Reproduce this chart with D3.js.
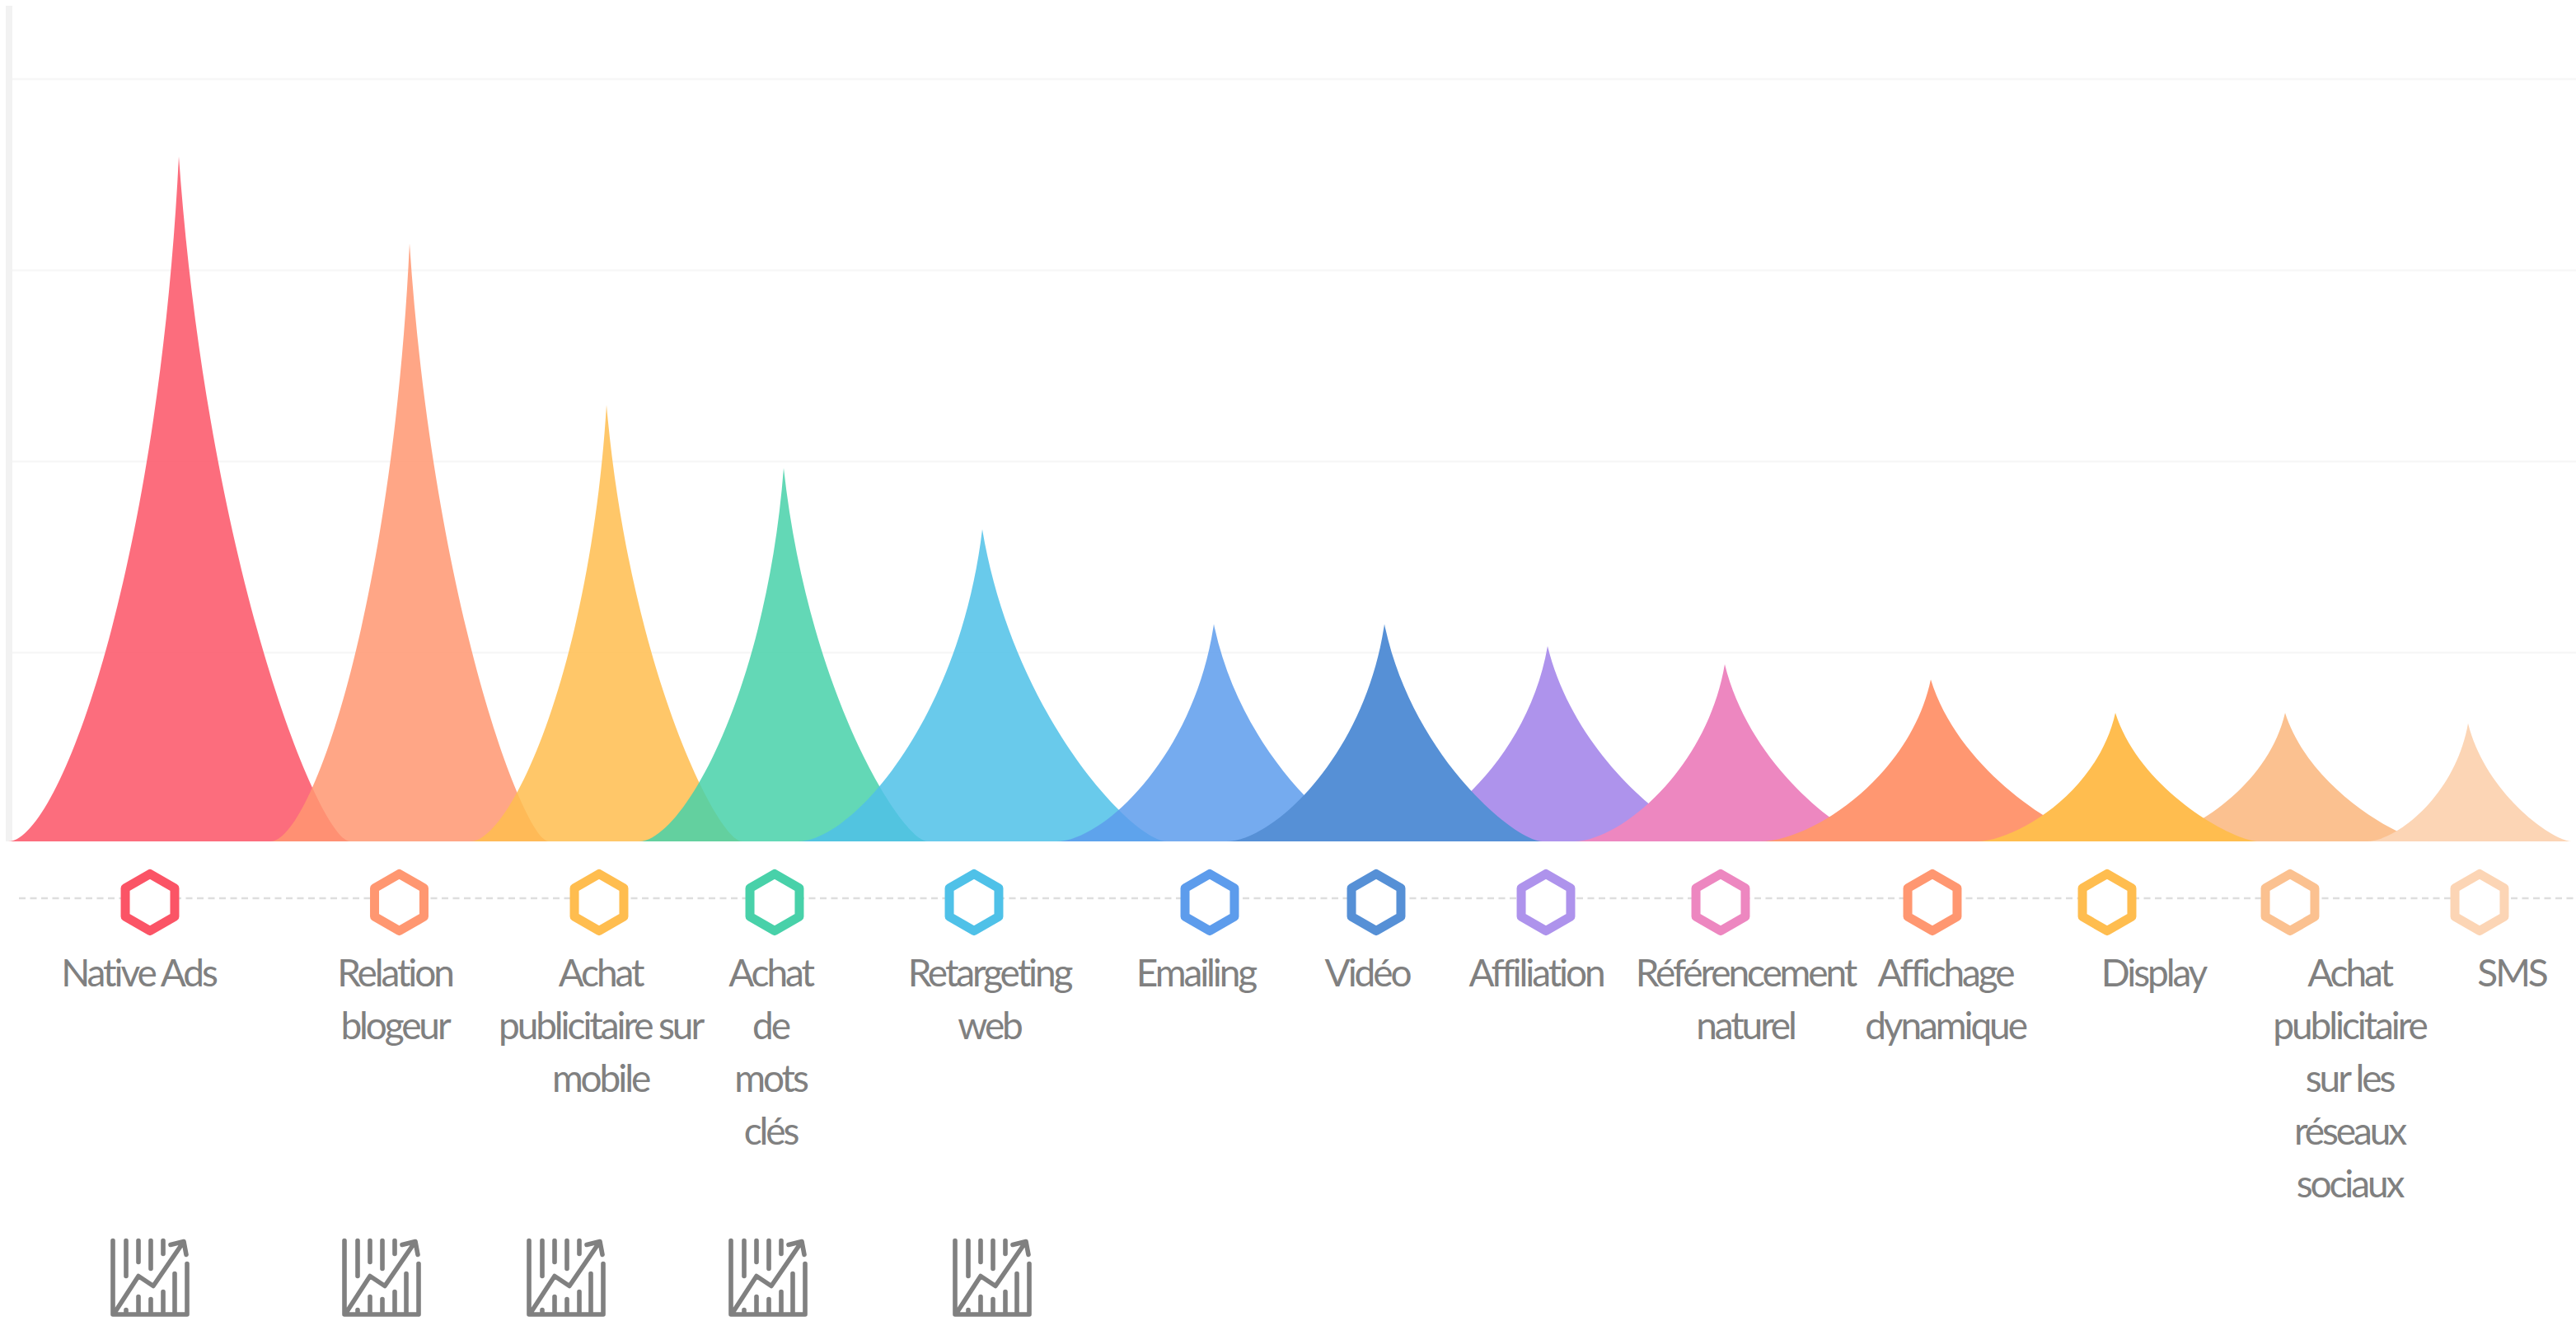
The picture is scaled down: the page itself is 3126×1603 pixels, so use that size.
<!DOCTYPE html>
<html lang="fr">
<head>
<meta charset="utf-8">
<title>Canaux de publicité</title>
<script src="https://cdnjs.cloudflare.com/ajax/libs/d3/7.8.5/d3.min.js"></script>
<style>
  html, body { margin: 0; padding: 0; background: #fff; }
  svg { display: block; }
  .label { font-family: Lato, sans-serif; font-weight: 400; font-size: 46px; letter-spacing: -3.1px; fill: #808080; text-anchor: middle; }
</style>
</head>
<body>
<svg id="chart" width="3126" height="1603"></svg>
<script>
// Channel names, one entry per wrapped line of the caption
const categories = [
  ["Native Ads"],
  ["Relation", "blogeur"],
  ["Achat", "publicitaire sur", "mobile"],
  ["Achat", "de", "mots", "clés"],
  ["Retargeting", "web"],
  ["Emailing"],
  ["Vidéo"],
  ["Affiliation"],
  ["Référencement", "naturel"],
  ["Affichage", "dynamique"],
  ["Display"],
  ["Achat", "publicitaire", "sur les", "réseaux", "sociaux"],
  ["SMS"]
];

// Height of each peak on the value axis
const values = [359.5, 314, 229.5, 196.5, 164.5, 115, 115, 103.5, 94, 86, 68.5, 68.5, 63];

// Horizontal extents of each peak on the x axis: summit, left foot, right foot
const summits = [108.5, 248.5, 368, 475.5, 596, 736.5, 840, 939, 1046.5, 1171.5, 1283.5, 1386.5, 1497.5];
const leftFeet = [5, 164, 285.5, 387.75, 484, 641, 744, 836.5, 955, 1068, 1199, 1296.5, 1436];
const rightFeet = [212.5, 333, 450.25, 563, 708, 832, 936, 1041.5, 1140, 1277.5, 1370.5, 1474, 1560.5];

// Centres of the markers, captions and trend icons on the same x axis
const markerAt = [91, 242.25, 363.5, 470, 591, 734, 835, 938, 1044, 1172.5, 1278.5, 1389.5, 1504.5];
const captionAt = [84, 239.5, 364.25, 467.5, 600.25, 725.5, 829.5, 932, 1059, 1180.25, 1306.5, 1425.5, 1524];
const trendAt = [91, 231.5, 343.5, 466, 602];

const hexColors = ["#fb5466", "#ff9771", "#ffbd4f", "#48d1a9", "#4fc1e8", "#5d9cec", "#5690d6",
                   "#ae93ec", "#ed87c0", "#ff9771", "#ffbd4f", "#fbc190", "#fcd5b5"];

const gridValues = [100, 200, 300, 400];
const baseValue = 1.3;

// The first six peaks are translucent, the later ones are solid
const translucentCount = 6;
// Stacking order: Vidéo sits over Affiliation and Display over its later neighbour
const paintOrder = [0, 1, 2, 3, 4, 5, 7, 6, 8, 9, 11, 10, 12];

const width = 3126, height = 1603;
const x = d3.scaleLinear().domain([0, 1563]).range([0, width]);
const y = d3.scaleLinear().domain([0, 400]).range([1024, 96]);

const svg = d3.select("#chart");
svg.append("rect").attr("width", width).attr("height", height).attr("fill", "#fff");

// Value gridlines and vertical axis bar
svg.append("g").selectAll("line").data(gridValues).join("line")
  .attr("x1", 15).attr("x2", width)
  .attr("y1", d => y(d)).attr("y2", d => y(d))
  .attr("stroke", "#f7f7f7").attr("stroke-width", 2.5);

svg.append("line")
  .attr("x1", 11).attr("x2", 11)
  .attr("y1", 7).attr("y2", y(baseValue))
  .attr("stroke", "#f2f2f2").attr("stroke-width", 8);

// Peak outline: flared sides meeting at a sharp summit
function peakPath(i) {
  const b = y(baseValue), t = y(values[i]), h = b - t;
  const c = x(summits[i]), l = x(leftFeet[i]), r = x(rightFeet[i]);
  const hr = r - c, hl = c - l;
  const p = d3.path();
  p.moveTo(l, b);
  p.lineTo(r, b);
  p.bezierCurveTo(c + 0.82 * hr, b, c + 0.17 * hr, b - 0.4 * h, c, t);
  p.bezierCurveTo(c - 0.12 * hl, b - 0.4 * h, c - 0.70 * hl, b, l, b);
  p.closePath();
  return p.toString();
}

svg.append("g").selectAll("path").data(paintOrder).join("path")
  .attr("d", i => peakPath(i))
  .attr("fill", i => hexColors[i])
  .attr("fill-opacity", i => i < translucentCount ? 0.85 : 1);

// Dashed guide running behind the markers
svg.append("line")
  .attr("x1", 23).attr("x2", width).attr("y1", 1090).attr("y2", 1090)
  .attr("stroke", "#dedede").attr("stroke-width", 2.5).attr("stroke-dasharray", "8 5.5");

// Hexagon markers
const hexRadius = 34.6;
const hexPath = d3.line()(d3.range(6).map(k => {
  const a = Math.PI / 3 * k;
  return [hexRadius * Math.sin(a), -hexRadius * Math.cos(a)];
})) + "Z";

svg.append("g").selectAll("path").data(markerAt).join("path")
  .attr("d", hexPath)
  .attr("transform", d => `translate(${x(d)},1095)`)
  .attr("fill", "#fff")
  .attr("stroke", (d, i) => hexColors[i])
  .attr("stroke-width", 11)
  .attr("stroke-linejoin", "round");

// Captions
const captions = svg.append("g").selectAll("text").data(categories).join("text")
  .attr("class", "label")
  .attr("transform", (d, i) => `translate(${x(captionAt[i])},1197)`);
captions.selectAll("tspan").data(d => d).join("tspan")
  .attr("x", 0)
  .attr("y", (d, j) => j * 64)
  .text(d => d);

// Trend icon: axes, hanging and standing ticks, rising arrow
const trendIcon = [
  "M-45,-45V44.5H45V-17",
  "M-29,-45V-2", "M-14,-45V-19", "M1,-45V-11", "M16,-45V-29",
  "M-29,39V44.5", "M-14,23V44.5", "M1,26V44.5", "M16,17V44.5", "M30,-5V44.5",
  "M-42,41L-14,-2L4,10L39,-41",
  "M25,-40L41,-44L44,-28"
].join("");

svg.append("g").selectAll("path").data(trendAt).join("path")
  .attr("d", trendIcon)
  .attr("transform", d => `translate(${x(d)},1550.5)`)
  .attr("fill", "none")
  .attr("stroke", "#808080")
  .attr("stroke-width", 5.6)
  .attr("stroke-linecap", "round")
  .attr("stroke-linejoin", "round");
</script>
</body>
</html>
